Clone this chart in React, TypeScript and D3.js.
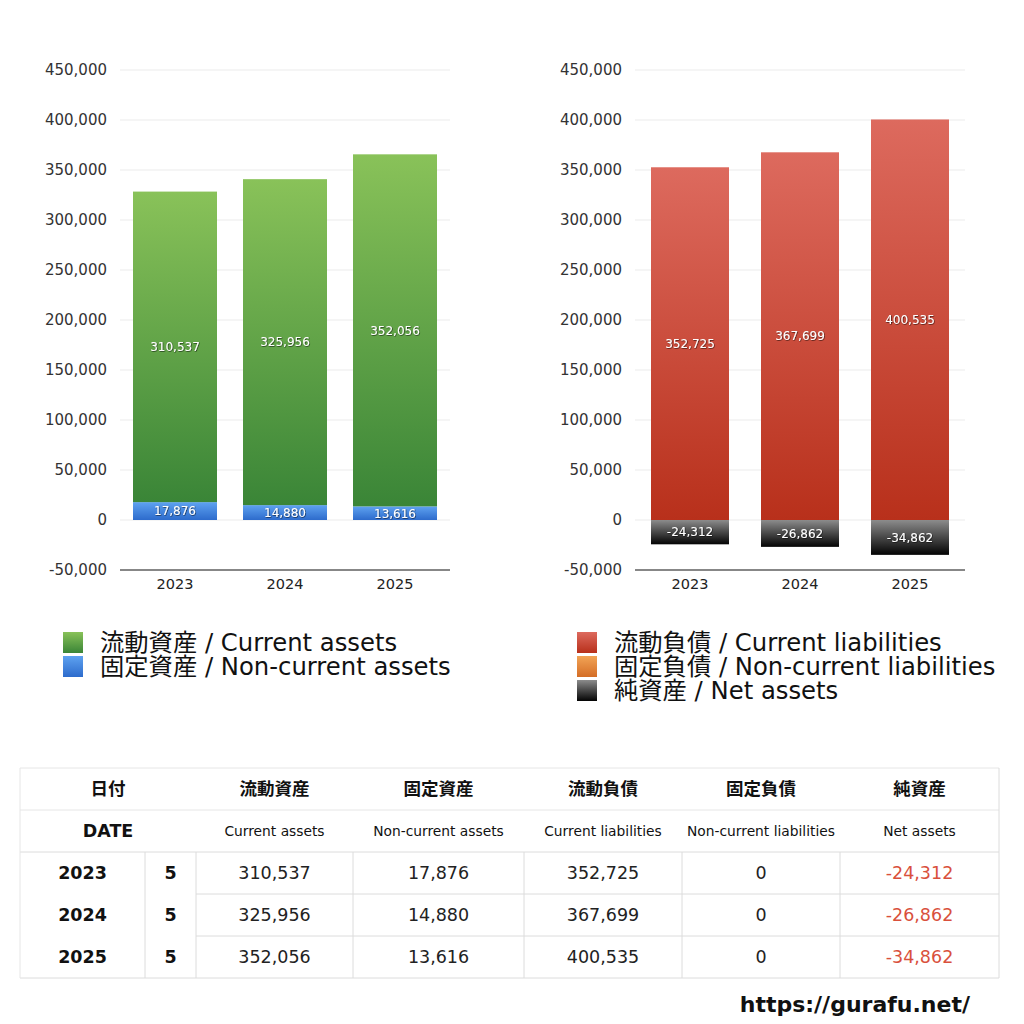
import React from 'react';
import * as d3 from 'd3';

const years = ['2023', '2024', '2025'];
const months = [5, 5, 5];
const currentAssets = [310537, 325956, 352056];
const nonCurrentAssets = [17876, 14880, 13616];
const currentLiabilities = [352725, 367699, 400535];
const nonCurrentLiabilities = [0, 0, 0];
const netAssets = [-24312, -26862, -34862];
const yTicks = [-50000, 0, 50000, 100000, 150000, 200000, 250000, 300000, 350000, 400000, 450000];

const assetLegend = ['流動資産 / Current assets', '固定資産 / Non-current assets'];
const liabLegend = ['流動負債 / Current liabilities', '固定負債 / Non-current liabilities', '純資産 / Net assets'];
const headJa = ['流動資産', '固定資産', '流動負債', '固定負債', '純資産'];
const headEn = ['Current assets', 'Non-current assets', 'Current liabilities', 'Non-current liabilities', 'Net assets'];

const FONT = "'DejaVu Sans', 'Noto Sans CJK JP', sans-serif";
const JFONT = "'Noto Sans CJK JP', sans-serif";
const fmt0 = d3.format(',');
const fmt = (v: number) => fmt0(v).replace('\u2212', '-');

const GRADS: Record<string, [string, string]> = {
  green: ['#89c259', '#3a8537'],
  blue: ['#5ea2f0', '#2d6bcc'],
  red: ['#dd6a5e', '#b8301b'],
  orange: ['#f2a456', '#d46d26'],
  black: ['#8c8c8c', '#030303'],
};

type Series = { key: string; values: number[]; grad: string };

function BarChart({ left, right, barWidth, series }: { left: number; right: number; barWidth: number; series: Series[] }) {
  const y = d3.scaleLinear().domain([-50000, 450000]).range([570, 70]);
  const step = (right - left) / years.length;
  const p = 1 - barWidth / step;
  const x = d3.scaleBand<string>().domain(years).range([left, right]).paddingInner(p).paddingOuter(p / 2);
  const rows = years.map((yr, i) => {
    const o: any = { year: yr };
    series.forEach((s) => (o[s.key] = s.values[i]));
    return o;
  });
  const stack = d3.stack<any>().keys(series.map((s) => s.key)).offset(d3.stackOffsetDiverging);
  const layers = stack(rows);
  return (
    <g fontFamily={FONT}>
      {yTicks.map((t) => (
        <g key={t}>
          {t !== -50000 && <line x1={left} x2={right} y1={y(t)} y2={y(t)} stroke="#ebebeb" strokeWidth={1} />}
          <text x={left - 13} y={y(t)} dy="0.36em" textAnchor="end" fontSize={15} fill="#333">
            {fmt(t)}
          </text>
        </g>
      ))}
      {layers.map((layer, li) =>
        layer.map((d, i) => {
          const y0 = y(Math.max(d[0], d[1]));
          const y1 = y(Math.min(d[0], d[1]));
          const h = y1 - y0;
          if (h <= 0) return null;
          return (
            <rect key={`${li}-${i}`} x={x(years[i])} y={y0} width={x.bandwidth()} height={h} fill={`url(#g-${series[li].grad})`} />
          );
        })
      )}
      {layers.map((layer, li) =>
        layer.map((d, i) => {
          const v = series[li].values[i];
          if (v === 0) return null;
          const mid = (y(d[0]) + y(d[1])) / 2;
          return (
            <text key={`t${li}-${i}`} x={(x(years[i]) as number) + x.bandwidth() / 2} y={mid} dy="0.36em" textAnchor="middle" fontSize={12} fill="#fff" filter="url(#shadow)">
              {fmt(v)}
            </text>
          );
        })
      )}
      <line x1={left} x2={right} y1={570} y2={570} stroke="#111" strokeWidth={1.2} />
      {years.map((yr) => (
        <text key={yr} x={(x(yr) as number) + x.bandwidth() / 2} y={584} dy="0.36em" textAnchor="middle" fontSize={14.5} fill="#222">
          {yr}
        </text>
      ))}
    </g>
  );
}

function Legend({ x, y, items, grads }: { x: number; y: number; items: string[]; grads: string[] }) {
  return (
    <g fontFamily={FONT}>
      {items.map((it, i) => (
        <g key={it}>
          <rect x={x} y={y + i * 24 - 10} width={20} height={21} fill={`url(#g-${grads[i]})`} />
          <text x={x + 37} y={y + i * 24} dy="0.36em" fontSize={24.3} fill="#111">
            {it}
          </text>
        </g>
      ))}
    </g>
  );
}

function Table() {
  const cols = [20, 145, 196, 353, 524, 682, 840, 999];
  const rowsY = [768, 810, 852, 894, 936, 978];
  const line = '#dcdcdc';
  const cx = (i: number) => (cols[i] + cols[i + 1]) / 2;
  return (
    <g fontFamily={FONT}>
      <line x1={20} x2={999} y1={768} y2={768} stroke="#e6e6e6" />
      <line x1={20} x2={999} y1={810} y2={810} stroke="#e6e6e6" />
      <line x1={20} x2={999} y1={852} y2={852} stroke={line} />
      <line x1={196} x2={999} y1={894} y2={894} stroke={line} />
      <line x1={196} x2={999} y1={936} y2={936} stroke={line} />
      <line x1={20} x2={999} y1={978} y2={978} stroke={line} />
      <line x1={20} x2={20} y1={768} y2={978} stroke="#e6e6e6" />
      <line x1={999} x2={999} y1={768} y2={978} stroke={line} />
      {cols.slice(1, 7).map((c) => (
        <line key={c} x1={c} x2={c} y1={852} y2={978} stroke={line} />
      ))}
      <text x={108} y={789} dy="0.36em" textAnchor="middle" fontFamily={JFONT} fontSize={17.5} fontWeight="bold" fill="#111">日付</text>
      <text x={108} y={831} dy="0.36em" textAnchor="middle" fontSize={17.5} fontWeight="bold" fill="#111">DATE</text>
      {headJa.map((h, i) => (
        <text key={h} x={cx(i + 2)} y={789} dy="0.36em" textAnchor="middle" fontFamily={JFONT} fontSize={17.5} fontWeight="bold" fill="#111">{h}</text>
      ))}
      {headEn.map((h, i) => (
        <text key={h} x={cx(i + 2)} y={831} dy="0.36em" textAnchor="middle" fontSize={13.8} fill="#111">{h}</text>
      ))}
      {years.map((yr, r) => {
        const yy = (rowsY[r + 2] + rowsY[r + 3]) / 2;
        const vals = [currentAssets[r], nonCurrentAssets[r], currentLiabilities[r], nonCurrentLiabilities[r], netAssets[r]];
        return (
          <g key={yr}>
            <text x={cx(0)} y={yy} dy="0.36em" textAnchor="middle" fontSize={17.5} fontWeight="bold" fill="#111">{yr}</text>
            <text x={cx(1)} y={yy} dy="0.36em" textAnchor="middle" fontSize={17.5} fontWeight="bold" fill="#111">{months[r]}</text>
            {vals.map((v, i) => (
              <text key={i} x={cx(i + 2)} y={yy} dy="0.36em" textAnchor="middle" fontSize={17.5} fill={v < 0 ? '#d9503c' : '#222'}>
                {fmt(v)}
              </text>
            ))}
          </g>
        );
      })}
    </g>
  );
}

export default function App() {
  return (
    <svg width={1024} height={1024} style={{ position: 'absolute', left: 0, top: 0, background: '#fff' }}>
      <defs>
        {Object.entries(GRADS).map(([k, [a, b]]) => (
          <linearGradient key={k} id={`g-${k}`} x1="0" y1="0" x2="0" y2="1">
            <stop offset="0" stopColor={a} />
            <stop offset="1" stopColor={b} />
          </linearGradient>
        ))}
        <filter id="shadow" x="-20%" y="-40%" width="140%" height="180%">
          <feDropShadow dx="0.6" dy="0.6" stdDeviation="0.6" floodColor="#000" floodOpacity="0.75" />
        </filter>
      </defs>
      <rect x={0} y={0} width={1024} height={1024} fill="#fff" />
      <BarChart
        left={120}
        right={450}
        barWidth={84}
        series={[
          { key: 'nonCurrent', values: nonCurrentAssets, grad: 'blue' },
          { key: 'current', values: currentAssets, grad: 'green' },
        ]}
      />
      <BarChart
        left={635}
        right={965}
        barWidth={78}
        series={[
          { key: 'current', values: currentLiabilities, grad: 'red' },
          { key: 'nonCurrent', values: nonCurrentLiabilities, grad: 'orange' },
          { key: 'net', values: netAssets, grad: 'black' },
        ]}
      />
      <Legend x={63} y={642} items={assetLegend} grads={['green', 'blue']} />
      <Legend x={577} y={642} items={liabLegend} grads={['red', 'orange', 'black']} />
      <Table />
      <text x={970} y={1004} dy="0.36em" textAnchor="end" fontFamily={FONT} fontSize={22} fontWeight="bold" fill="#111">
        https://gurafu.net/
      </text>
    </svg>
  );
}
